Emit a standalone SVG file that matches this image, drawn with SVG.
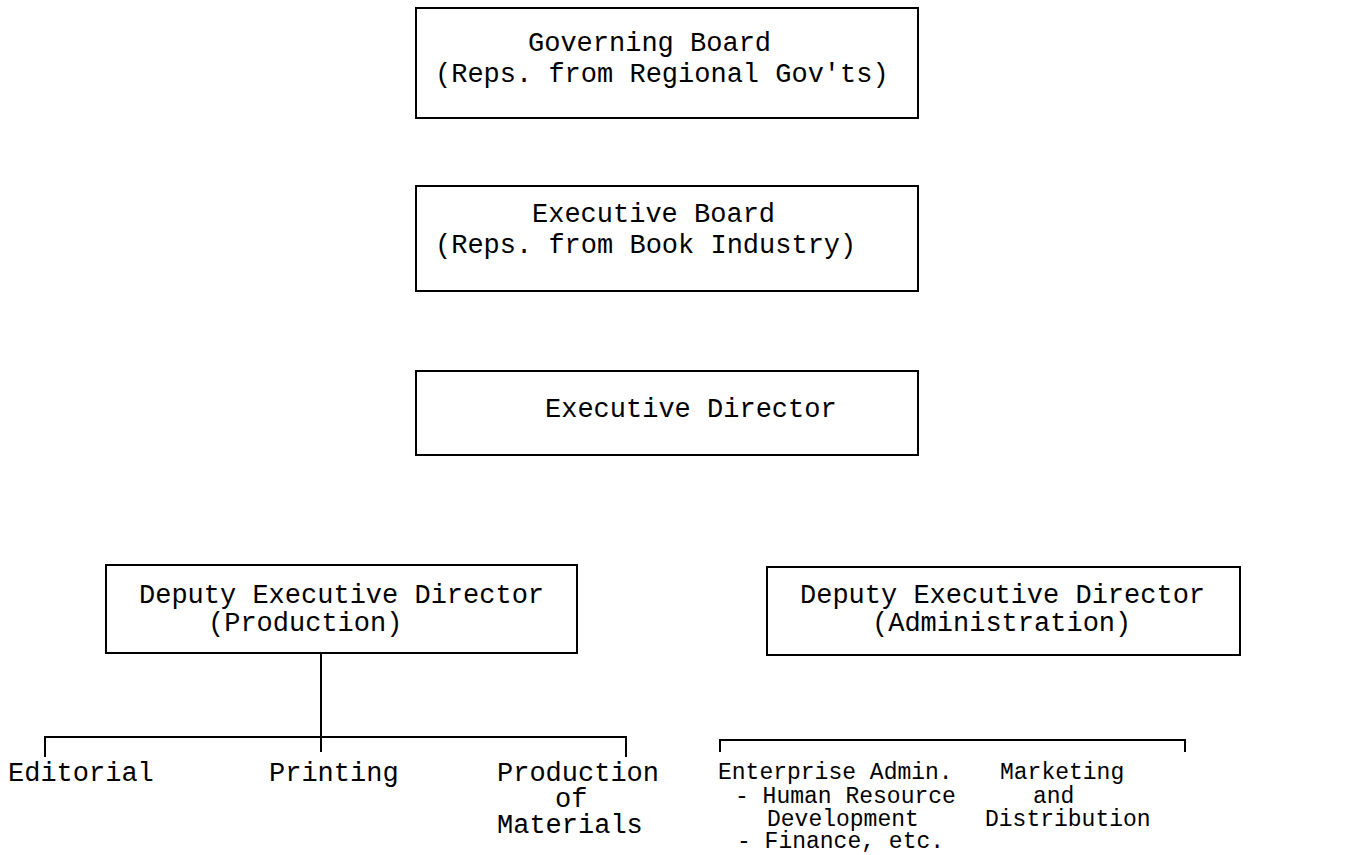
<svg xmlns="http://www.w3.org/2000/svg" width="1352" height="855" viewBox="0 0 1352 855">
<style>
.box{fill:#fff;stroke:#000;stroke-width:2}
.ln{stroke:#000;stroke-width:2;fill:none}
text{font-family:"Liberation Mono","Courier New",monospace;font-size:27px;fill:#000}
.sm{font-size:23px}
</style>
<rect width="1352" height="855" fill="#fff"/>
<g id="connectors">
<path class="ln" d="M321 653 V752 M45 757 V737 H626 V757 M720 752 V740 H1185 V752"/>
</g>
<g id="governing-board">
<rect class="box" x="416" y="8" width="502" height="110"/>
<text x="528" y="51">Governing Board</text>
<text x="435" y="82">(Reps. from Regional Gov'ts)</text>
</g>
<g id="executive-board">
<rect class="box" x="416" y="186" width="502" height="105"/>
<text x="532" y="222">Executive Board</text>
<text x="435" y="253">(Reps. from Book Industry)</text>
</g>
<g id="executive-director">
<rect class="box" x="416" y="371" width="502" height="84"/>
<text x="545" y="417">Executive Director</text>
</g>
<g id="deputy-production">
<rect class="box" x="106" y="565" width="471" height="88"/>
<text x="139" y="603">Deputy Executive Director</text>
<text x="208" y="631">(Production)</text>
</g>
<g id="deputy-administration">
<rect class="box" x="767" y="567" width="473" height="88"/>
<text x="800" y="603">Deputy Executive Director</text>
<text x="872" y="631">(Administration)</text>
</g>
<g id="editorial"><text x="8" y="781">Editorial</text></g>
<g id="printing"><text x="269" y="781">Printing</text></g>
<g id="production-materials">
<text x="497" y="781">Production</text>
<text x="555" y="807">of</text>
<text x="497" y="833">Materials</text>
</g>
<g id="enterprise-admin">
<text class="sm" x="718" y="779">Enterprise Admin.</text>
<text class="sm" x="735" y="803">- Human Resource</text>
<text class="sm" x="767" y="826">Development</text>
<text class="sm" x="737" y="848">- Finance, etc.</text>
</g>
<g id="marketing">
<text class="sm" x="1000" y="779">Marketing</text>
<text class="sm" x="1033" y="803">and</text>
<text class="sm" x="985" y="826">Distribution</text>
</g>
</svg>
